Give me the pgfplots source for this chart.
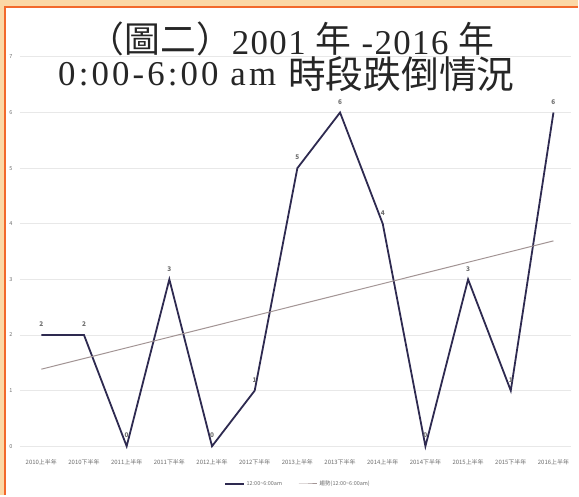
\documentclass[border=0pt]{standalone}
\usepackage{pgfplots}
\pgfplotsset{compat=1.18}
\usepackage{fontspec}
\setmainfont{Liberation Serif}
\newfontfamily\titlefont[LetterSpace=4]{Liberation Serif}
\newfontfamily\titlefontb[LetterSpace=9]{Liberation Serif}
\newfontfamily\cjk{Noto Sans CJK TC}
\definecolor{peach}{HTML}{FBD8A6}
\definecolor{frame}{HTML}{F2692C}
\definecolor{navy}{HTML}{2E2A50}
\definecolor{trend}{HTML}{A39595}
\definecolor{lbl}{HTML}{6E6E6E}
\newcommand\cj[3]{\raisebox{#1}{\cjk\fontsize{#2}{30}\selectfont #3}}

\pgfplotstableread{
x y
0 2
1 2
2 0
3 3
4 0
5 1
6 5
7 6
8 4
9 0
10 3
11 1
12 6
}\falls

\pgfplotstableread{
x y
0 1.385
12 3.692
}\trendline

\begin{document}
\begin{tikzpicture}[x=1bp,y=1bp]
\fill[peach] (0,0) rectangle (579,496);
\fill[white] (5,0) rectangle (579,489);
\draw[frame, line width=2bp] (5,0) -- (5,489) -- (579,489);
\begin{axis}[
    at={(20bp,49bp)}, anchor=south west,
    scale only axis, width=551.5bp, height=390bp,
    xmin=-0.5, xmax=12.4, ymin=0, ymax=7,
    xtick={0,...,12},
    xticklabels={2010上半年,2010下半年,2011上半年,2011下半年,2012上半年,2012下半年,2013上半年,2013下半年,2014上半年,2014下半年,2015上半年,2015下半年,2016上半年},
    ytick={0,...,7},
    axis line style={draw=none},
    major tick length=0pt,
    ymajorgrids, grid style={gray!18, line width=0.8bp},
    xticklabel style={font=\cjk\fontsize{6}{7}\selectfont, text=lbl, yshift=-10bp},
    yticklabel style={font=\cjk\fontsize{5.5}{6}\selectfont, text=lbl, xshift=-4bp},
    /pgf/number format/assume math mode=true,
    legend style={at={(0.505,-0.097)}, anchor=center, draw=none, fill=none,
        font=\cjk\fontsize{5.5}{6}\selectfont, text=lbl,
        legend columns=2, /tikz/every even column/.append style={column sep=14bp}},
    legend image post style={xscale=1.1},
    clip=false,
]
\addplot[navy, line width=1.8bp, line join=miter,
    nodes near coords, every node near coord/.append style={font=\cjk\bfseries\fontsize{6.5}{7}\selectfont, text=lbl, yshift=4bp}]
    table[x=x,y=y] {\falls};
\addlegendentry{12:00\textasciitilde6:00am}
\addplot[trend, line width=1bp] table[x=x,y=y] {\trendline};
\addlegendentry{趨勢(12:00\textasciitilde6:00am)}
\end{axis}
\node[font=\titlefont\fontsize{35}{30}\selectfont, text=black!85, anchor=base, inner sep=0pt] at (292,441)
  {\cj{2bp}{36}{（圖二）}2001 \cj{2bp}{36}{年} -2016 \cj{2bp}{36}{年}};
\node[font=\titlefontb\fontsize{35}{30}\selectfont, text=black!85, anchor=base, inner sep=0pt] at (287,410)
  {0:00-6:00 am \cj{-3bp}{38}{時段跌倒情況}};
\end{tikzpicture}
\end{document}
